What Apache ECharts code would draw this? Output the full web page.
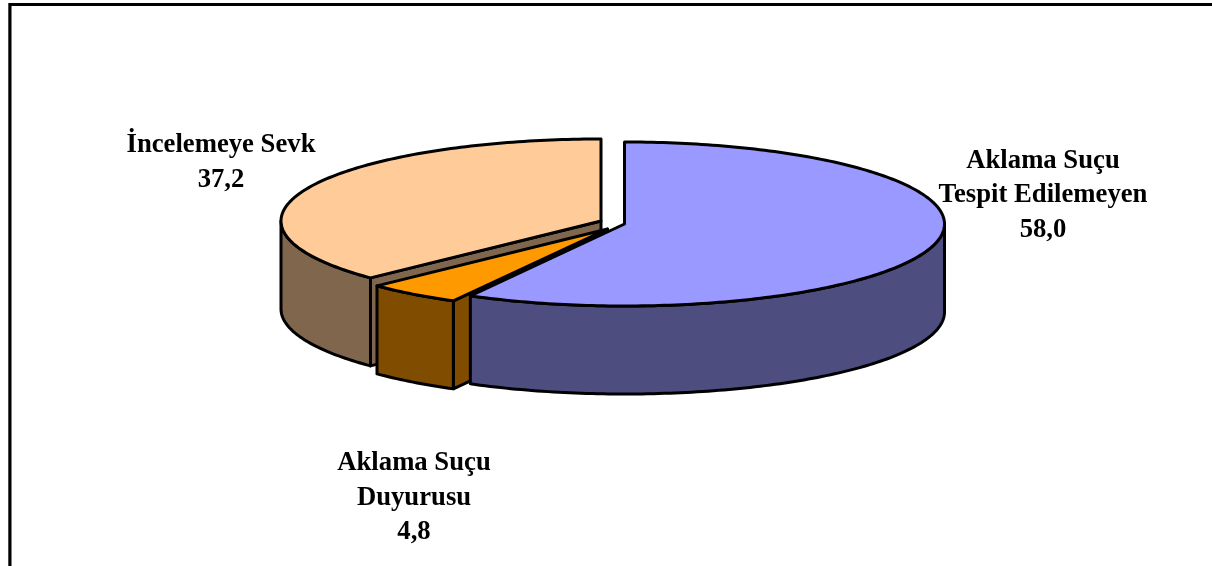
<!DOCTYPE html>
<html>
<head>
<meta charset="utf-8">
<style>html,body{margin:0;padding:0;background:#fff;overflow:hidden}#c{width:1212px;height:566px}</style>
<script src="https://cdn.jsdelivr.net/npm/echarts@6/dist/echarts.min.js"></script>
</head>
<body>
<div id="c"></div>
<script>
// Data, in the pie's clockwise order from 12 o'clock
const categories = ['Aklama Suçu\nTespit Edilemeyen', 'Aklama Suçu\nDuyurusu', 'İncelemeye Sevk'];
const values = [58.0, 4.8, 37.2];
const topColors = ['#9999FF', '#FF9900', '#FFCC99'];
const wallColors = ['#4D4D80', '#804D00', '#80664D'];

// Layout of the tilted pie (pixels)
const apexX = [624.5, 607.5, 601];
const apexY = [224, 229, 221];
const labelX = [1043, 414, 221];
const labelY = [195.5, 498, 162.5];
const radiusX = 320, radiusY = 82, depth = 88;
const paintOrder = [2, 1, 0];   // back to front

const total = values.reduce((a, b) => a + b, 0);
const startDeg = [];
values.reduce((acc, v, i) => { startDeg[i] = acc; return acc + v / total * 360; }, 0);

function rimPoint(i, deg, drop) {
  const r = deg * Math.PI / 180;
  return [apexX[i] + radiusX * Math.sin(r), apexY[i] - radiusY * Math.cos(r) + (drop || 0)];
}
function rimArc(i, from, to, drop) {
  const n = Math.max(2, Math.ceil(Math.abs(to - from)));
  const pts = [];
  for (let k = 0; k <= n; k++) pts.push(rimPoint(i, from + (to - from) * k / n, drop));
  return pts;
}
const lineStyle = { stroke: '#000', lineWidth: 3, lineJoin: 'round' };

function renderSlice(params) {
  const i = paintOrder[params.dataIndex];
  const from = startDeg[i], to = from + values[i] / total * 360;
  const children = [];
  const add = (pts, fill) => children.push({
    type: 'polygon', shape: { points: pts }, style: Object.assign({ fill }, lineStyle)
  });
  const apex = [apexX[i], apexY[i]], apexLow = [apexX[i], apexY[i] + depth];

  // Cut faces that look toward the viewer
  if (i === 2) add([apex, rimPoint(i, from), rimPoint(i, from, depth), apexLow], wallColors[i]);
  if (i === 1) add([apex, rimPoint(i, from), rimPoint(i, from, depth), apexLow], wallColors[i]);

  // Outer wall: only the front half of the rim
  const a = Math.max(from, 90), b = Math.min(to, 270);
  if (b > a) add(rimArc(i, a, b, 0).concat(rimArc(i, b, a, depth)), wallColors[i]);

  // Top face
  add([apex].concat(rimArc(i, from, to, 0)), topColors[i]);

  // Label
  children.push({
    type: 'text', z2: 50,
    style: {
      text: categories[i] + '\n' + values[i].toFixed(1).replace('.', ','),
      x: labelX[i], y: labelY[i], align: 'center', verticalAlign: 'middle',
      fill: '#000', lineHeight: 34.5,
      font: 'bold 26.7px "Liberation Serif", "Times New Roman", serif'
    }
  });
  return { type: 'group', children };
}

const chart = echarts.init(document.getElementById('c'), null, { renderer: 'canvas' });
chart.setOption({
  animation: false,
  backgroundColor: '#fff',
  graphic: [{
    type: 'polyline', silent: true,
    shape: { points: [[9.9, 566], [9.9, 4.5], [1212, 4.5]] },
    style: { stroke: '#000', lineWidth: 3.2, fill: null }
  }],
  series: [{
    type: 'custom',
    coordinateSystem: 'none',
    silent: true,
    renderItem: renderSlice,
    data: paintOrder.map(i => ({ name: categories[i], value: values[i] }))
  }]
});
</script>
</body>
</html>
